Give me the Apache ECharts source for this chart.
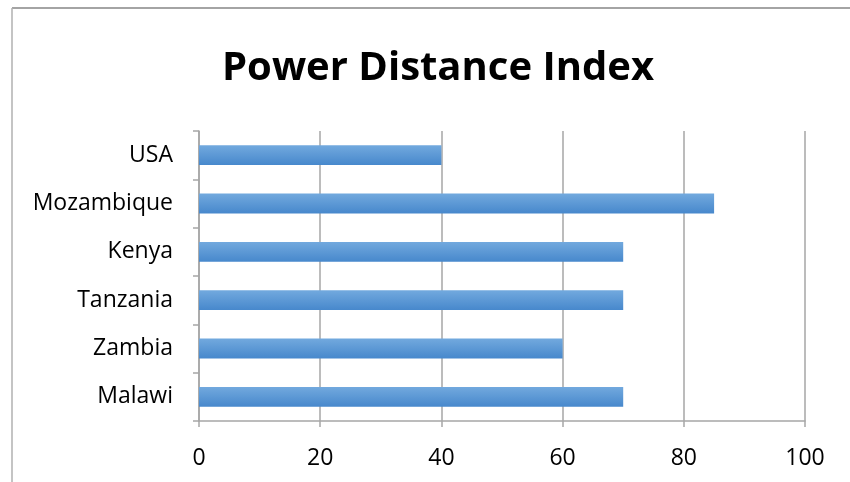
<!DOCTYPE html>
<html>
<head>
<meta charset="utf-8">
<script src="https://cdn.jsdelivr.net/npm/echarts@6/dist/echarts.min.js"></script>
<style>
  html, body { margin: 0; padding: 0; background: #fff; }
  #chart { width: 850px; height: 482px; }
</style>
</head>
<body>
<div id="chart"></div>
<script>
// Power Distance Index by country (bottom to top on the category axis)
const countries = ['Malawi', 'Zambia', 'Tanzania', 'Kenya', 'Mozambique', 'USA'];
const pdiValues = [70, 60, 70, 70, 85, 40];
const xTicks = [0, 20, 40, 60, 80, 100];

const FONT = '"Open Sans", "Liberation Sans", sans-serif';
const chart = echarts.init(document.getElementById('chart'), null, { renderer: 'canvas' });

chart.setOption({
  backgroundColor: '#fff',
  animation: false,
  title: {
    text: 'Power Distance Index',
    left: 217,
    top: 44,
    textStyle: { fontFamily: FONT, fontWeight: 'bold', fontSize: 40, color: '#000' }
  },
  graphic: [
    // chart frame edges
    { type: 'line', shape: { x1: 12, y1: 8, x2: 850, y2: 8 }, style: { stroke: '#868686', lineWidth: 1.5 } },
    { type: 'line', shape: { x1: 12, y1: 8, x2: 12, y2: 482 }, style: { stroke: '#b0b0b0', lineWidth: 1.5 } }
  ],
  grid: { left: 199, right: 45, top: 131, bottom: 61 },
  xAxis: {
    type: 'value',
    min: xTicks[0],
    max: xTicks[xTicks.length - 1],
    interval: 20,
    axisLine: { show: true, lineStyle: { color: '#a6a6a6', width: 1.5 } },
    axisTick: { show: true, length: 6, lineStyle: { color: '#a6a6a6', width: 1.5 } },
    splitLine: { show: true, lineStyle: { color: '#a6a6a6', width: 1.5 } },
    axisLabel: { fontFamily: FONT, fontSize: 23, color: '#000', margin: 26 }
  },
  yAxis: {
    type: 'category',
    data: countries,
    axisLine: { show: true, lineStyle: { color: '#a6a6a6', width: 1.5 } },
    axisTick: { show: true, length: 6, lineStyle: { color: '#a6a6a6', width: 1.5 } },
    axisLabel: { fontFamily: FONT, fontSize: 23, color: '#000', margin: 26, padding: [3, 0, 0, 0] }
  },
  series: [{
    type: 'bar',
    data: pdiValues,
    barWidth: '41%',
    itemStyle: {
      color: new echarts.graphic.LinearGradient(0, 0, 0, 1, [
        { offset: 0, color: '#72a9de' },
        { offset: 1, color: '#4788cc' }
      ])
    }
  }]
});
</script>
</body>
</html>
